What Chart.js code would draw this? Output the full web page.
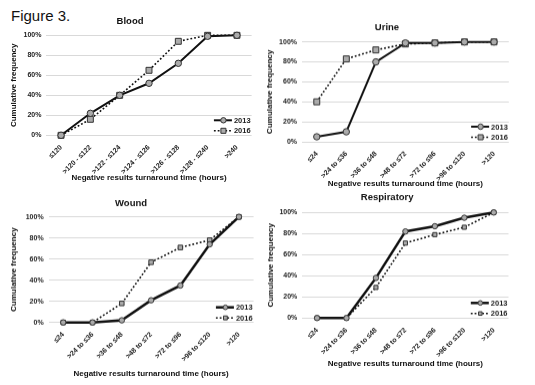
<!DOCTYPE html>
<html>
<head>
<meta charset="utf-8">
<script src="https://cdn.jsdelivr.net/npm/chart.js@4/dist/chart.umd.min.js"></script>
<style>
    body { margin: 0; background: #fff; width: 535px; height: 385px; position: relative; overflow: hidden; font-family: "Liberation Sans", Arial, sans-serif; }
    .panel { position: absolute; }
    #fig { position: absolute; left: 11px; top: 8px; font-size: 15px; line-height: 15px; color: #111; }
</style>
</head>
<body>
<div id="fig">Figure 3.</div>
<div class="panel"><canvas id="blood"></canvas></div>
<div class="panel"><canvas id="urine"></canvas></div>
<div class="panel"><canvas id="wound"></canvas></div>
<div class="panel"><canvas id="resp"></canvas></div>
<script>
// categories
const bloodLabels = ['≤120', '>120 - ≤122', '>122 - ≤124', '>124 - ≤126', '>126 - ≤128', '>128 - ≤240', '>240']
const hourLabels = ['≤24', '>24 to ≤36', '>36 to ≤48', '>48 to ≤72', '>72 to ≤96', '>96 to ≤120', '>120']
const seriesNames = ['2013', '2016']
const yTicks = [0, 20, 40, 60, 80, 100]

// cumulative frequency (%)
const blood2013 = [0, 22, 40, 52, 72, 99, 100]
const blood2016 = [0, 16, 40, 65, 94, 100, 100]
const urine2013 = [5, 10, 80, 99, 99, 100, 100]
const urine2016 = [40, 83, 92, 98, 99, 100, 100]
const wound2013 = [0, 0, 2, 21, 35, 74, 100]
const wound2016 = [0, 0, 18, 57, 71, 78, 100]
const resp2013 = [0, 0, 38, 82, 87, 95, 100]
const resp2016 = [0, 0, 29, 71, 79, 86, 100]

const FONT = '"Liberation Sans", Arial, sans-serif'
const LH = 8 * 1.2

// legend drawn inside the plot, bottom right
const insideLegend = {
    id: 'insideLegend',
    afterDatasetsDraw(chart) {
        const ctx = chart.ctx
        const area = chart.chartArea
        ctx.save()
        ctx.font = 'bold 7.5px ' + FONT
        ctx.textBaseline = 'middle'
        chart.data.datasets.forEach((ds, i) => {
            const y = area.bottom - (i === 0 ? 15 : 4.5)
            const tw = ctx.measureText(ds.label).width
            const x1 = area.right - tw - 2
            const x0 = x1 - 19
            ctx.strokeStyle = ds.borderColor
            ctx.lineWidth = ds.borderWidth
            ctx.setLineDash(ds.borderDash || [])
            ctx.beginPath()
            ctx.moveTo(x0, y)
            ctx.lineTo(x1 - 1, y)
            ctx.stroke()
            ctx.setLineDash([])
            ctx.fillStyle = ds.pointBackgroundColor
            ctx.strokeStyle = ds.pointBorderColor
            ctx.lineWidth = 1
            Chart.helpers.drawPoint(ctx, {
                pointStyle: ds.pointStyle,
                radius: ds.pointRadius * 0.85,
                borderWidth: 1,
                rotation: 0
            }, (x0 + x1) / 2, y)
            ctx.fillStyle = '#222'
            ctx.fillText(ds.label, x1 + 1, y + 0.5)
        })
        ctx.restore()
    }
}

const makePanel = (id, title, labels, a, b, g) => {
    const canvas = document.getElementById(id)
    const h = g.xTitleY + LH / 2 - g.top
    canvas.parentNode.style.cssText = `left:${g.left}px;top:${g.top}px;width:${g.width}px;height:${h}px`
    const padLeft = g.yTitleX - LH / 2 - g.left
    const yWidth = g.area.l - g.left - padLeft
    const xHeight = g.xTitleY + LH / 2 - g.area.b
    const padRight = g.left + g.width - g.area.r

    new Chart(canvas, {
        type: 'line',
        data: {
            labels: labels,
            datasets: [
                {
                    label: seriesNames[0], data: a, clip: false,
                    borderColor: '#111', borderWidth: g.w1,
                    pointStyle: 'circle', pointRadius: g.rc,
                    pointBackgroundColor: '#ababab', pointBorderColor: '#333', pointBorderWidth: 1
                },
                {
                    label: seriesNames[1], data: b, clip: false,
                    borderColor: '#111', borderWidth: 1.6, borderDash: [1.8, 2],
                    pointStyle: 'rect', pointRadius: g.rs,
                    pointBackgroundColor: '#ababab', pointBorderColor: '#333', pointBorderWidth: 1
                }
            ]
        },
        options: {
            responsive: true,
            maintainAspectRatio: false,
            animation: false,
            layout: { padding: { left: padLeft, right: padRight, top: 0, bottom: 0 } },
            plugins: {
                legend: { display: false },
                tooltip: { enabled: false },
                title: {
                    display: true, text: title, color: '#111',
                    font: { family: FONT, size: 9.5, weight: 'bold', lineHeight: 1.2 },
                    padding: { top: g.titleY - 5.7 - g.top, bottom: g.area.t - g.titleY - 5.7 }
                }
            },
            scales: {
                x: {
                    offset: true,
                    grid: { display: false },
                    border: { display: false },
                    ticks: {
                        minRotation: 45, maxRotation: 45, autoSkip: false, padding: 0,
                        color: '#222', font: { family: FONT, size: 7, weight: 'bold' }
                    },
                    title: {
                        display: true, text: 'Negative results turnaround time (hours)', color: '#111',
                        font: { family: FONT, size: 8, weight: 'bold', lineHeight: 1.2 },
                        padding: 0
                    },
                    afterFit: (s) => { s.height = xHeight }
                },
                y: {
                    min: 0, max: 100,
                    afterBuildTicks: (s) => { s.ticks = yTicks.map(v => ({ value: v })) },
                    grid: { color: '#d9d9d9', lineWidth: 1, drawTicks: false },
                    border: { display: false },
                    ticks: {
                        padding: 5, color: '#222',
                        font: { family: FONT, size: 7, weight: 'bold' },
                        callback: (v) => v + '%'
                    },
                    title: {
                        display: true, text: 'Cumulative frequency', color: '#111',
                        font: { family: FONT, size: 8, weight: 'bold', lineHeight: 1.2 },
                        padding: 0
                    },
                    afterFit: (s) => { s.width = yWidth }
                }
            }
        },
        plugins: [insideLegend]
    })
}

makePanel('blood', 'Blood', bloodLabels, blood2013, blood2016, {
    left: 0, top: 0, width: 262, titleY: 21, yTitleX: 13.3, xTitleY: 177.3,
    area: { l: 46.4, r: 251.6, t: 35.3, b: 135.3 }, w1: 2, rc: 3.2, rs: 4.2
})
makePanel('urine', 'Urine', hourLabels, urine2013, urine2016, {
    left: 264, top: 0, width: 271, titleY: 27.7, yTitleX: 270, xTitleY: 183,
    area: { l: 302, r: 508.8, t: 41.7, b: 141 }, w1: 2, rc: 3.2, rs: 4.2
})
makePanel('wound', 'Wound', hourLabels, wound2013, wound2016, {
    left: 0, top: 190, width: 262, titleY: 203.5, yTitleX: 13.3, xTitleY: 373,
    area: { l: 48.6, r: 253.6, t: 216.7, b: 321.7 }, w1: 2.5, rc: 2.7, rs: 3.2
})
makePanel('resp', 'Respiratory', hourLabels, resp2013, resp2016, {
    left: 264, top: 188, width: 271, titleY: 197.3, yTitleX: 270.7, xTitleY: 363,
    area: { l: 302.3, r: 508.5, t: 212.3, b: 317.3 }, w1: 2.5, rc: 2.7, rs: 2.9
})
</script>
</body>
</html>
